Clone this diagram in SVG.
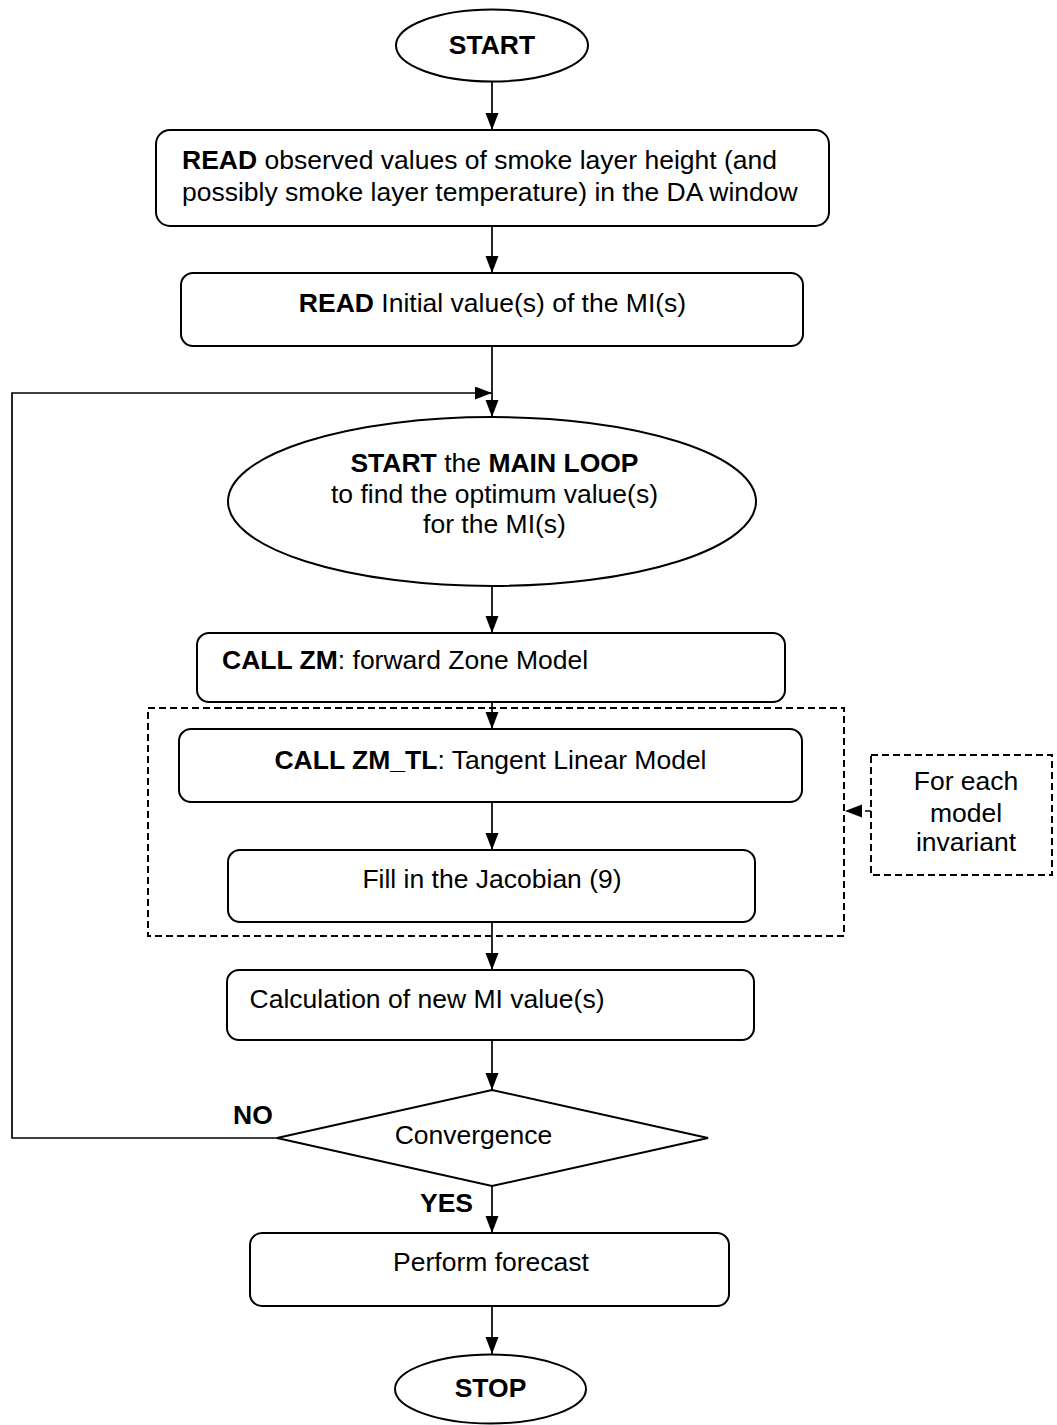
<svg xmlns="http://www.w3.org/2000/svg" width="1057" height="1425" viewBox="0 0 1057 1425">
<style>
.shape{fill:#fff;stroke:#000;stroke-width:2}
.dash{fill:none;stroke:#000;stroke-width:2;stroke-dasharray:7,4}
.conn{fill:none;stroke:#000;stroke-width:1.7}
text{font-family:"Liberation Sans",Arial,sans-serif;font-size:26.5px;fill:#000}
.b{font-weight:bold}
.c{text-anchor:middle}
</style>
<defs>
<marker id="ah" markerUnits="userSpaceOnUse" markerWidth="18" markerHeight="14" refX="17" refY="6.5" orient="auto">
<path d="M0,0 L17,6.5 L0,13 z" fill="#000"/>
</marker>
</defs>
<rect width="1057" height="1425" fill="#fff"/>
<g id="group-loop">
<rect class="dash" x="148" y="708" width="696" height="228"/>
</g>
<g id="connectors">
<line class="conn" x1="492" y1="82" x2="492" y2="130" marker-end="url(#ah)"/>
<line class="conn" x1="492" y1="226" x2="492" y2="273" marker-end="url(#ah)"/>
<line class="conn" x1="492" y1="346" x2="492" y2="417" marker-end="url(#ah)"/>
<line class="conn" x1="492" y1="586" x2="492" y2="633" marker-end="url(#ah)"/>
<line class="conn" x1="492" y1="702" x2="492" y2="729" marker-end="url(#ah)"/>
<line class="conn" x1="492" y1="802" x2="492" y2="850" marker-end="url(#ah)"/>
<line class="conn" x1="492" y1="922" x2="492" y2="970" marker-end="url(#ah)"/>
<line class="conn" x1="492" y1="1040" x2="492" y2="1090" marker-end="url(#ah)"/>
<line class="conn" x1="492" y1="1186" x2="492" y2="1233" marker-end="url(#ah)"/>
<line class="conn" x1="492" y1="1306" x2="492" y2="1354" marker-end="url(#ah)"/>
<polyline class="conn" points="277,1138 12,1138 12,393 492,393" stroke-width="2" marker-end="url(#ah)"/>
<line class="conn" x1="871" y1="811" x2="845" y2="811" stroke-dasharray="6,3" marker-end="url(#ah)"/>
</g>
<g id="start">
<ellipse class="shape" cx="492" cy="45.5" rx="96" ry="36"/>
<text class="b c" x="492" y="54">START</text>
</g>
<g id="read-observed">
<rect class="shape" x="156" y="130" width="673" height="96" rx="14"/>
<text x="182" y="169"><tspan class="b">READ</tspan> observed values of smoke layer height (and</text>
<text x="182" y="201">possibly smoke layer temperature) in the DA window</text>
</g>
<g id="read-initial">
<rect class="shape" x="181" y="273" width="622" height="73" rx="12"/>
<text class="c" x="492.5" y="312"><tspan class="b">READ</tspan> Initial value(s) of the MI(s)</text>
</g>
<g id="main-loop">
<ellipse class="shape" cx="492" cy="501.5" rx="264" ry="84.5"/>
<text class="c" x="494.5" y="472"><tspan class="b">START</tspan> the <tspan class="b">MAIN LOOP</tspan></text>
<text class="c" x="494.5" y="502.5">to find the optimum value(s)</text>
<text class="c" x="494.5" y="532.5">for the MI(s)</text>
</g>
<g id="call-zm">
<rect class="shape" x="197" y="633" width="588" height="69" rx="12"/>
<text x="222" y="668.5"><tspan class="b">CALL ZM</tspan>: forward Zone Model</text>
</g>
<g id="call-zm-tl">
<rect class="shape" x="179" y="729" width="623" height="73" rx="12"/>
<text class="c" x="490.5" y="768.5"><tspan class="b">CALL ZM_TL</tspan>: Tangent Linear Model</text>
</g>
<g id="fill-jacobian">
<rect class="shape" x="228" y="850" width="527" height="72" rx="12"/>
<text class="c" x="492" y="887.5">Fill in the Jacobian (9)</text>
</g>
<g id="for-each">
<rect class="dash" x="871" y="755" width="181" height="120"/>
<text class="c" x="966" y="790">For each</text>
<text class="c" x="966" y="821.5">model</text>
<text class="c" x="966" y="850.5">invariant</text>
</g>
<g id="calc-new">
<rect class="shape" x="227" y="970" width="527" height="70" rx="12"/>
<text x="249.5" y="1008">Calculation of new MI value(s)</text>
</g>
<g id="convergence">
<polygon class="shape" points="492,1090 708,1138 492,1186 277,1138"/>
<text class="c" x="473.5" y="1143.5">Convergence</text>
<text class="b" x="233" y="1124">NO</text>
<text class="b" x="420" y="1212">YES</text>
</g>
<g id="perform-forecast">
<rect class="shape" x="250" y="1233" width="479" height="73" rx="12"/>
<text class="c" x="491" y="1271">Perform forecast</text>
</g>
<g id="stop">
<ellipse class="shape" cx="490.5" cy="1389" rx="95.5" ry="34.5"/>
<text class="b c" x="490.5" y="1397">STOP</text>
</g>
</svg>
